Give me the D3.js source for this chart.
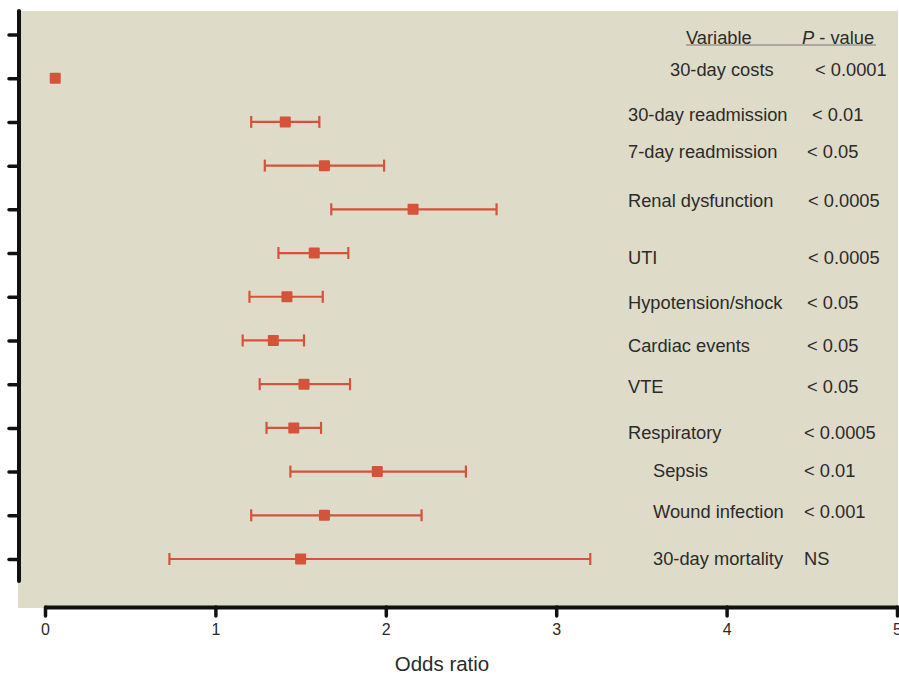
<!DOCTYPE html>
<html>
<head>
<meta charset="utf-8">
<script src="https://d3js.org/d3.v7.min.js"></script>
<style>
  body { margin: 0; background: #fff; }
  svg text { font-family: "Liberation Sans", Arial, sans-serif; fill: #2b2b2b; }
  .axis path, .axis line { stroke: #111; }
</style>
</head>
<body>
<script>
// rows top to bottom (first tick row holds the table header)
var variables = ["30-day costs", "30-day readmission", "7-day readmission", "Renal dysfunction",
                 "UTI", "Hypotension/shock", "Cardiac events", "VTE", "Respiratory",
                 "Sepsis", "Wound infection", "30-day mortality"];
var oddsRatio = [0.06, 1.41, 1.64, 2.16, 1.58, 1.42, 1.34, 1.52, 1.46, 1.95, 1.64, 1.50];
var ciLow     = [null, 1.21, 1.29, 1.68, 1.37, 1.20, 1.16, 1.26, 1.30, 1.44, 1.21, 0.73];
var ciHigh    = [null, 1.61, 1.99, 2.65, 1.78, 1.63, 1.52, 1.79, 1.62, 2.47, 2.21, 3.20];
var pValues   = ["< 0.0001", "< 0.01", "< 0.05", "< 0.0005", "< 0.0005", "< 0.05", "< 0.05",
                 "< 0.05", "< 0.0005", "< 0.01", "< 0.001", "NS"];
var xTicks = [0, 1, 2, 3, 4, 5];

var W = 899, H = 675;
var red = "#d5533a";

var svg = d3.select("body").append("svg").attr("width", W).attr("height", H);

var x = d3.scaleLinear().domain([0, 5]).range([45, 897]);
var rows = ["header"].concat(variables);
var y = d3.scalePoint().domain(rows).range([34.5, 559]);

// panel
svg.append("rect").attr("x", 18).attr("y", 11).attr("width", 880).attr("height", 597)
  .attr("fill", "#dedbc8");

// y axis (unlabelled ticks)
var yAxis = svg.append("g").attr("class", "axis").attr("transform", "translate(19,0)")
  .call(d3.axisLeft(y).tickSize(10).tickFormat(""));
yAxis.select(".domain").remove();
yAxis.selectAll("line").attr("stroke-width", 3.5).attr("stroke-linecap", "round");
yAxis.append("line").attr("x1", 0).attr("x2", 0).attr("y1", 11).attr("y2", 581)
  .attr("stroke", "#111").attr("stroke-width", 4).attr("stroke-linecap", "round");

// x axis
var xAxis = svg.append("g").attr("class", "axis").attr("transform", "translate(0,607)")
  .call(d3.axisBottom(x).tickValues(xTicks).tickFormat(d3.format("d"))
    .tickSize(9).tickSizeOuter(0).tickPadding(8));
xAxis.select(".domain").attr("stroke-width", 4);
xAxis.selectAll(".tick line").attr("stroke-width", 3.5).attr("stroke-linecap", "round");
xAxis.selectAll(".tick text").attr("font-size", 16).attr("fill", "#2b2b2b")
  .style("font-family", "Liberation Sans, Arial, sans-serif");

svg.append("text").attr("x", 442).attr("y", 671).attr("text-anchor", "middle")
  .attr("font-size", 20.5).text("Odds ratio");

// error bars
var data = variables.map(function (v, i) {
  return { name: v, or: oddsRatio[i], lo: ciLow[i], hi: ciHigh[i], p: pValues[i] };
});
var g = svg.append("g");
var ci = data.filter(function (d) { return d.lo != null; });
g.selectAll(".ci").data(ci).enter().append("line")
  .attr("x1", function (d) { return x(d.lo); }).attr("x2", function (d) { return x(d.hi); })
  .attr("y1", function (d) { return y(d.name); }).attr("y2", function (d) { return y(d.name); })
  .attr("stroke", red).attr("stroke-width", 2.2);
["lo", "hi"].forEach(function (k) {
  g.selectAll(".cap-" + k).data(ci).enter().append("line")
    .attr("x1", function (d) { return x(d[k]); }).attr("x2", function (d) { return x(d[k]); })
    .attr("y1", function (d) { return y(d.name) - 6; }).attr("y2", function (d) { return y(d.name) + 6; })
    .attr("stroke", red).attr("stroke-width", 2.2);
});
g.selectAll(".pt").data(data).enter().append("rect")
  .attr("x", function (d) { return x(d.or) - 5.5; })
  .attr("y", function (d) { return y(d.name) - 5.5; })
  .attr("width", 11).attr("height", 11).attr("rx", 1)
  .attr("fill", red);

// table layout (hand-placed like the original figure)
var indent = { "30-day costs": 670, "Sepsis": 653, "Wound infection": 653, "30-day mortality": 653 };
var nudge = { "30-day costs": -2, "30-day readmission": -1, "7-day readmission": -8,
              "Renal dysfunction": -2, "UTI": 11, "Hypotension/shock": 12, "Cardiac events": 12,
              "VTE": 9, "Respiratory": 11, "Sepsis": 5, "Wound infection": 3, "30-day mortality": 6 };
var pX = { "< 0.0001": 815, "< 0.01": 812, "< 0.05": 807, "< 0.0005": 808, "< 0.001": 804, "NS": 804 };
var t = svg.append("g").attr("font-size", 18.3);
t.selectAll(".lbl").data(data).enter().append("text")
  .attr("x", function (d) { return indent[d.name] || 628; })
  .attr("y", function (d) { return y(d.name) + nudge[d.name]; })
  .text(function (d) { return d.name; });
t.selectAll(".pv").data(data).enter().append("text")
  .attr("x", function (d, i) { return i > 7 ? 804 : pX[d.p]; })
  .attr("y", function (d) { return y(d.name) + nudge[d.name]; })
  .text(function (d) { return d.p; });

// header
var hy = 44;
t.append("text").attr("x", 686).attr("y", hy).text("Variable");
var ph = t.append("text").attr("x", 802).attr("y", hy);
ph.append("tspan").attr("font-style", "italic").text("P");
ph.append("tspan").text(" - value");
svg.append("line").attr("x1", 686).attr("x2", 876).attr("y1", hy + 1).attr("y2", hy + 1)
  .attr("stroke", "#777").attr("stroke-width", 1);
</script>
</body>
</html>
